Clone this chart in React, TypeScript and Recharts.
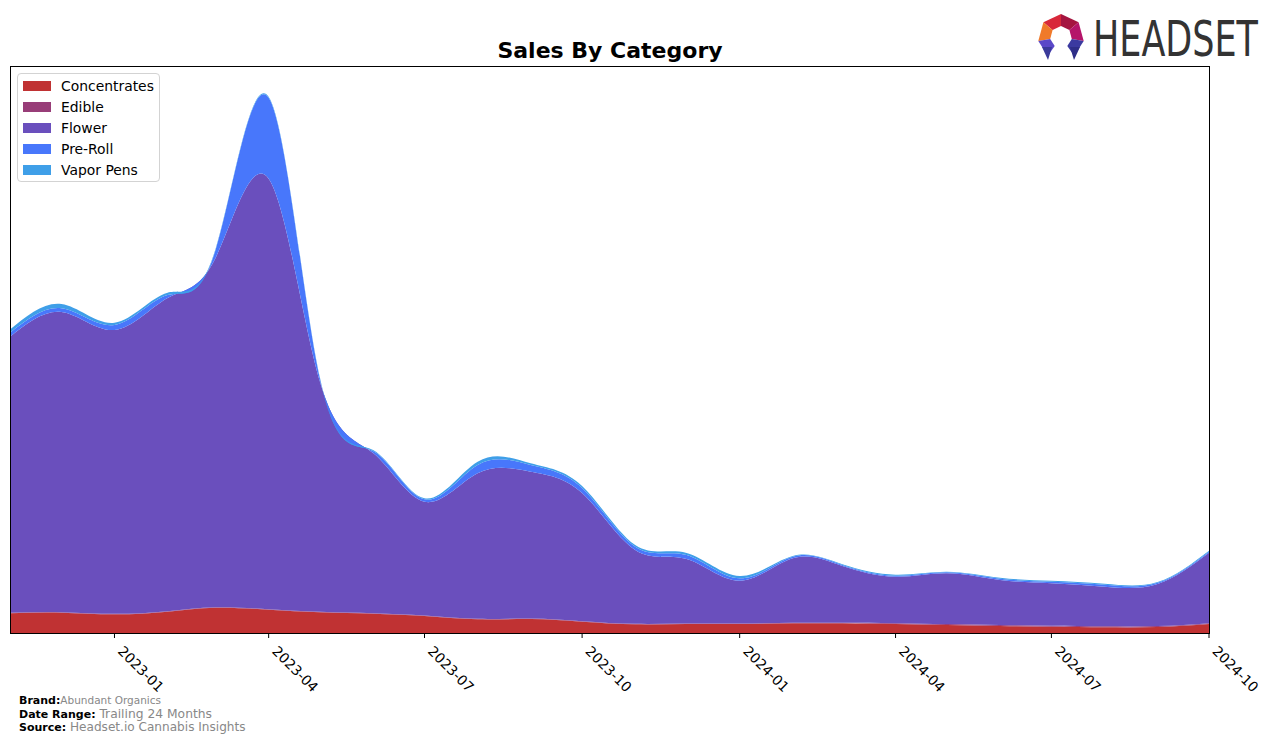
import React from "react";
import { AreaChart, Area, XAxis, YAxis, Legend } from "recharts";

const months = [
  "2022-11", "2022-12", "2023-01", "2023-02", "2023-03", "2023-04",
  "2023-05", "2023-06", "2023-07", "2023-08", "2023-09", "2023-10",
  "2023-11", "2023-12", "2024-01", "2024-02", "2024-03", "2024-04",
  "2024-05", "2024-06", "2024-07", "2024-08", "2024-09", "2024-10",
];

const concentrates = [19.7, 20.3, 18.7, 21.3, 25.3, 23.3, 20.7, 19.3, 17, 13.7, 14, 11.3, 8.7, 9, 9, 9.7, 9.7, 9, 8, 7, 6.3, 5.7, 6, 9];
const edible = [0.5, 0.5, 0.5, 0.5, 0.5, 0.5, 0.5, 0.5, 0.5, 0.5, 0.5, 0.5, 0.5, 0.5, 0.5, 0.5, 0.6, 0.8, 0.9, 1, 1, 1, 0.9, 0.8];
const flower = [276.1, 300.2, 283.8, 313.2, 349.2, 430.5, 229.8, 160.2, 113.8, 145.5, 146.8, 128.2, 73.8, 64.5, 42.8, 64.5, 56.7, 46.5, 50.8, 45, 42.4, 39.6, 42.1, 70.5];
const preRoll = [3.9, 3.7, 5, 3, 8, 81, 3, 2, 2.4, 8.3, 6.7, 5, 3.3, 4, 2.4, 1.6, 1, 1, 1, 1.3, 1.6, 2, 1.3, 1];
const vaporPens = [3.3, 4.3, 2.3, 2.3, 1, 1, 1, 1, 1, 3.3, 1.7, 2, 1.7, 2, 2.3, 0.7, 0.7, 1, 0.6, 1, 1, 1, 0.7, 1];

const tickLabels = ["2023-01", "2023-04", "2023-07", "2023-10", "2024-01", "2024-04", "2024-07", "2024-10"];

const seriesNames = ["Concentrates", "Edible", "Flower", "Pre-Roll", "Vapor Pens"];
const seriesColors = ["#c03233", "#983d78", "#6a4fbd", "#4877fb", "#3f9fe8"];
const seriesValues = [concentrates, edible, flower, preRoll, vaporPens];

const toTs = (m: string) => {
  const [y, mo] = m.split("-").map(Number);
  return Date.UTC(y, mo - 1, 1);
};

const data = months.map((m, i) => {
  const row: Record<string, number> = { ts: toTs(m) };
  seriesNames.forEach((n, k) => {
    row[n] = seriesValues[k][i];
  });
  return row;
});

const tickTs = tickLabels.map(toTs);
const FONT = "DejaVu Sans, sans-serif";

const RotTick = (props: any) => {
  const { x, y, payload } = props;
  const d = new Date(payload.value);
  const label = `${d.getUTCFullYear()}-${String(d.getUTCMonth() + 1).padStart(2, "0")}`;
  return (
    <g transform={`translate(${x},${y})`}>
      <text
        transform="translate(2.5,12) rotate(45)"
        textAnchor="start"
        fontSize={13.9}
        fontFamily={FONT}
        fill="#000"
      >
        {label}
      </text>
    </g>
  );
};

const LegendBox = () => (
  <div
    style={{
      width: 143,
      height: 109,
      border: "1px solid #d3d3d3",
      borderRadius: 4,
      background: "rgba(255,255,255,0.8)",
      boxSizing: "border-box",
      fontFamily: FONT,
      fontSize: 13.9,
      paddingTop: 1,
    }}
  >
    {seriesNames.map((n, k) => (
      <div key={n} style={{ height: 21, display: "flex", alignItems: "center", position: "relative" }}>
        <div style={{ position: "absolute", left: 5, width: 28, height: 10, background: seriesColors[k] }} />
        <div style={{ position: "absolute", left: 43, color: "#000", lineHeight: "16px" }}>{n}</div>
      </div>
    ))}
  </div>
);

const Logo = () => {
  const cx = 1061;
  const cy = 37;
  const R = 23;
  const r = 11;
  const seg = (a0: number, a1: number) => {
    const p = (a: number, rad: number) => {
      const t = (a * Math.PI) / 180;
      return `${(cx + rad * Math.cos(t)).toFixed(1)},${(cy - rad * Math.sin(t)).toFixed(1)}`;
    };
    return [p(a0, R), p(a1, R), p(a1, r), p(a0, r)].join(" ");
  };
  const segs: [number, number, string][] = [
    [90, 140, "#d8283a"],
    [40, 90, "#a51540"],
    [-10, 40, "#b5156a"],
    [140, 190, "#f07a2a"],
    [190, 235, "#5a48c8"],
    [-55, -10, "#3b3aa0"],
  ];
  return (
    <g>
      {segs.map(([a0, a1, c], i) => (
        <polygon key={i} points={seg(a0, a1)} fill={c} />
      ))}
      <polygon points={`${cx - 19},${cy + 10} ${cx - 9},${cy + 10} ${cx - 13},${cy + 23}`} fill="#3a3a9a" />
      <polygon points={`${cx + 9},${cy + 10} ${cx + 19},${cy + 10} ${cx + 13},${cy + 23}`} fill="#2e2e88" />
      <text
        transform="translate(1093,56) scale(1,1.4)"
        x={0}
        y={0}
        fontSize={35}
        fontFamily={FONT}
        fill="#333"
      >
        HEADSET
      </text>
    </g>
  );
};

export default function App() {
  return (
    <div style={{ position: "absolute", left: 0, top: 0, width: 1276, height: 744, background: "#fff" }}>
      <AreaChart
        width={1276}
        height={744}
        data={data}
        margin={{ top: 66, right: 67, bottom: 51, left: 10 }}
      >
        <XAxis
          dataKey="ts"
          type="number"
          domain={[toTs(months[0]), toTs(months[months.length - 1])]}
          ticks={tickTs}
          tick={<RotTick />}
          tickLine={{ stroke: "#000" }}
          tickSize={5}
          axisLine={false}
          height={60}
          allowDataOverflow
          interval={0}
        />
        <YAxis hide domain={[0, 567]} allowDataOverflow />
        <Legend
          layout="vertical"
          align="center"
          verticalAlign="middle"
          wrapperStyle={{ left: 17, top: 73, width: 143 }}
          content={<LegendBox />}
        />
        {seriesNames.map((n, k) => (
          <Area
            key={n}
            type="natural"
            dataKey={n}
            stackId="1"
            stroke="none"
            fill={seriesColors[k]}
            fillOpacity={1}
            isAnimationActive={false}
            dot={false}
            activeDot={false}
          />
        ))}
      </AreaChart>
      <svg
        width={1276}
        height={744}
        style={{ position: "absolute", left: 0, top: 0, pointerEvents: "none" }}
      >
        <rect x={10.5} y={66.5} width={1199} height={567} fill="none" stroke="#000" strokeWidth={1} />
        <text x={610} y={58} textAnchor="middle" fontSize={22} fontWeight="bold" fontFamily={FONT} fill="#000">
          Sales By Category
        </text>
        <text x={19} y={704} fontFamily={FONT} fontSize={11}>
          <tspan fontWeight="bold" fill="#000">Brand:</tspan>
          <tspan fill="#888" fontSize={10.5}>Abundant Organics</tspan>
        </text>
        <text x={19} y={717.5} fontFamily={FONT} fontSize={11}>
          <tspan fontWeight="bold" fill="#000">Date Range: </tspan>
          <tspan fill="#888" fontSize={12.3}>Trailing 24 Months</tspan>
        </text>
        <text x={19} y={731} fontFamily={FONT} fontSize={11}>
          <tspan fontWeight="bold" fill="#000">Source: </tspan>
          <tspan fill="#888" fontSize={12.1}>Headset.io Cannabis Insights</tspan>
        </text>
        <Logo />
      </svg>
    </div>
  );
}
